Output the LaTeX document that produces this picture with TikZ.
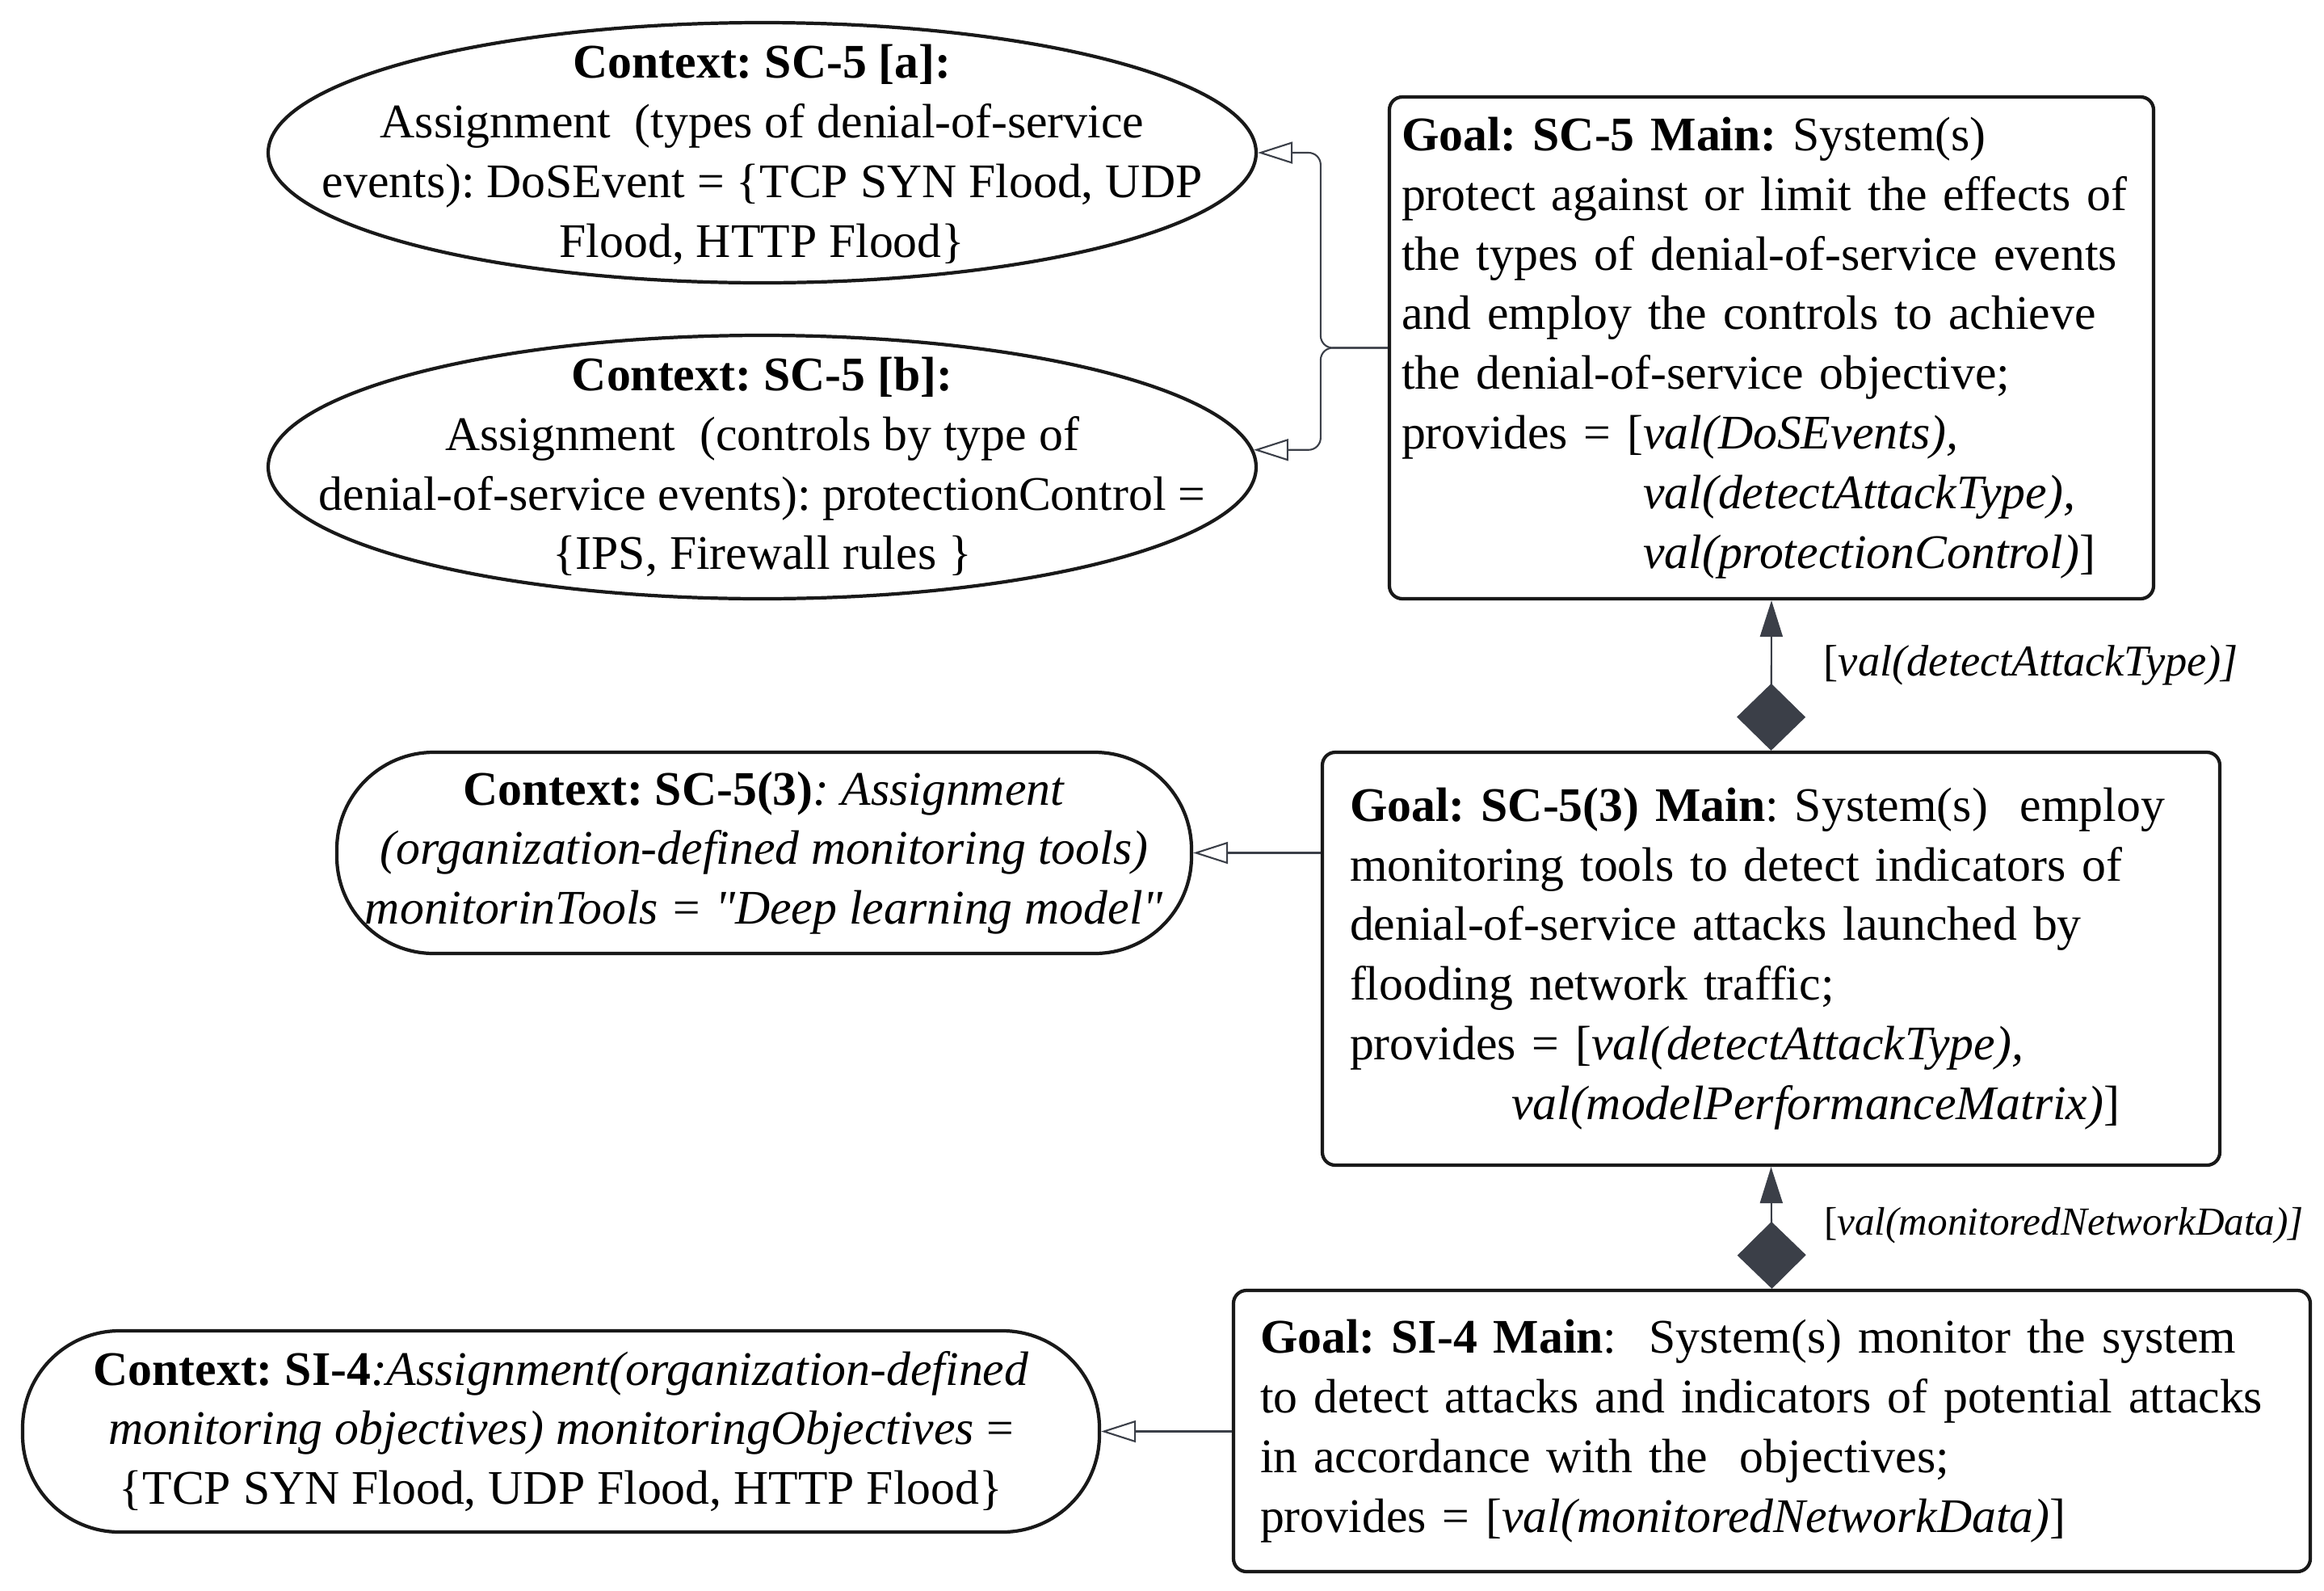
\documentclass[tikz,border=0pt]{standalone}
\usepackage{fontspec}
\setmainfont{Liberation Serif}
\usetikzlibrary{arrows.meta,shapes.geometric}
\frenchspacing
\definecolor{linkgray}{HTML}{3B3F48}
\tikzset{
  goal/.style={draw=black!90, line width=1.2pt, rounded corners=0.16cm, align=left},
  ctxshape/.style={draw=black!90, ellipse, line width=1.2pt, inner sep=0pt},
  ctxpill/.style={draw=black!90, line width=1.2pt, rounded corners=1.2cm, align=center, inner sep=0pt},
  ctxtext/.style={align=center, inner sep=0pt},
  ctxlink/.style={draw=linkgray, line width=0.6pt, rounded corners=0.15cm,
    -{Triangle[open, length=0.43cm, width=0.27cm]}},
  dep/.style={draw=linkgray, line width=0.6pt,
    {Diamond[length=0.83cm, width=0.85cm]}-{Triangle[length=0.45cm, width=0.28cm]}},
  deplabel/.style={anchor=west, xshift=0.64cm, inner sep=0pt}
}
\begin{document}
\begin{tikzpicture}[font=\fontsize{17}{21}\selectfont]
  \useasboundingbox (0,0) rectangle (28.77,-19.68);

  % goals
  \node[goal, text width=9.16cm, inner xsep=0.15cm, minimum height=6.21cm] (G1) at (21.93,-4.305)
    {\textbf{Goal: SC-5 Main:} System(s)\\
     protect against or limit the effects of\\
     the types of denial-of-service events\\
     and employ the controls to achieve\\
     the denial-of-service objective;\\
     provides = [\textit{val(DoSEvents),}\\
     \hphantom{provides = [}\textit{val(detectAttackType),}\\
     \hphantom{provides = [}\textit{val(protectionControl)}]};
  \node[goal, text width=10.43cm, inner xsep=0.34cm, minimum height=5.11cm] (G2) at (21.925,-11.865)
    {\textbf{Goal: SC-5(3) Main}: System(s)\ \ employ\\
     monitoring tools to detect indicators of\\
     denial-of-service attacks launched by\\
     flooding network traffic;\\
     provides = [\textit{val(detectAttackType),}\\
     \hspace*{2cm}\textit{val(modelPerformanceMatrix)}]};
  \node[goal, text width=12.67cm, inner xsep=0.33cm, minimum height=3.48cm] (G3) at (21.935,-17.71)
    {\textbf{Goal: SI-4 Main}:\ \ System(s) monitor the system\\
     to detect attacks and indicators of potential attacks\\
     in accordance with the\ \ objectives;\\
     provides = [\textit{val(monitoredNetworkData)}]};

  % contexts
  \node[ctxshape, minimum width=12.23cm, minimum height=3.22cm] (Ca) at (9.435,-1.89) {};
  \node[ctxtext] (Ca-text) at (9.435,-1.915)
    {\textbf{Context: SC-5 [a]:}\\
     Assignment\ \ (types of denial-of-service\\
     events): DoSEvent = \{TCP SYN Flood, UDP\\
     Flood, HTTP Flood\}};
  \node[ctxshape, minimum width=12.23cm, minimum height=3.26cm] (Cb) at (9.435,-5.78) {};
  \node[ctxtext] (Cb-text) at (Cb)
    {\textbf{Context: SC-5 [b]:}\\
     Assignment\ \ (controls by type of\\
     denial-of-service events): protectionControl =\\
     \{IPS, Firewall rules \}};
  \node[ctxpill, minimum width=10.58cm, minimum height=2.49cm] (C3) at (9.46,-10.555)
    {\textbf{Context: SC-5(3)}\textit{: Assignment}\\
     \textit{(organization-defined monitoring tools)}\\
     \textit{monitorinTools = \textquotedbl Deep learning model\textquotedbl}};
  \node[ctxpill, minimum width=13.33cm, minimum height=2.49cm] (C4) at (6.945,-17.715)
    {\textbf{Context: SI-4}\textit{:Assignment(organization-defined}\\
     \textit{monitoring objectives) monitoringObjectives} =\\
     \{TCP SYN Flood, UDP Flood, HTTP Flood\}};

  % links to contexts
  \coordinate (fork) at ([xshift=-0.83cm]G1.west);
  \draw[ctxlink] (G1.west) -- (fork) |- (Ca.east);
  \draw[ctxlink] (G1.west) -- (fork) |- (Cb.2);
  \draw[ctxlink] (C3.east -| G2.west) -- (C3.east);
  \draw[ctxlink] (C4.east -| G3.west) -- (C4.east);

  % goal dependencies
  \draw[dep] (G2.north) -- node[deplabel, pos=0.57, font=\fontsize{15.5}{18}\selectfont] (L1)
    {[\textit{val(detectAttackType)]}} (G1.south);
  \draw[dep] (G3.north) -- node[deplabel, pos=0.52, font=\fontsize{14}{17}\selectfont] (L2)
    {[\textit{val(monitoredNetworkData)]}} (G2.south);
\end{tikzpicture}
\end{document}
